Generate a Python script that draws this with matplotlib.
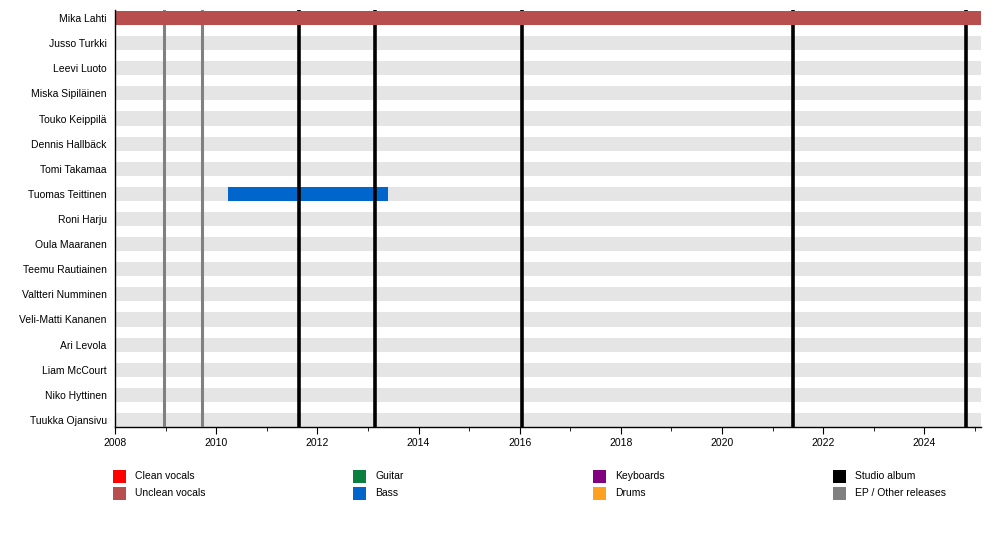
import matplotlib
matplotlib.use("Agg")
import matplotlib.pyplot as plt
from matplotlib.patches import Rectangle

plt.rcParams['font.family'] = ['Liberation Sans', 'DejaVu Sans']

members = ["Mika Lahti", "Jusso Turkki", "Leevi Luoto", "Miska Sipiläinen",
           "Touko Keippilä", "Dennis Hallbäck", "Tomi Takamaa", "Tuomas Teittinen",
           "Roni Harju", "Oula Maaranen", "Teemu Rautiainen", "Valtteri Numminen",
           "Veli-Matti Kananen", "Ari Levola", "Liam McCourt", "Niko Hyttinen",
           "Tuukka Ojansivu"]

# membership periods: (member, role, start, end)
bar_members = ["Mika Lahti", "Tuomas Teittinen"]
bar_roles = ["Unclean vocals", "Bass"]
bar_starts = [2008.0, 2010.23]
bar_ends = [2025.12, 2013.40]

studio_albums = [2011.64, 2013.14, 2016.04, 2021.40, 2024.82]
other_releases = [2008.97, 2009.72]

legend_labels = ["Clean vocals", "Unclean vocals", "Guitar", "Bass",
                 "Keyboards", "Drums", "Studio album", "EP / Other releases"]
legend_colors = ["#FF0000", "#B94E4E", "#0A7F3F", "#0066CC",
                 "#800080", "#FFA020", "#000000", "#808080"]
role_color = dict(zip(legend_labels, legend_colors))

x_start, x_end = 2008.0, 2025.12

fig = plt.figure(figsize=(10, 5.36), dpi=100)
ax = fig.add_axes([0.115, 0.2034, 0.981 - 0.115, 0.9813 - 0.2034])

ypos = list(range(len(members)))
bh = 0.56
# background stripes
ax.barh(ypos, [x_end - x_start] * len(members), left=x_start, height=bh,
        color="#E5E5E5", zorder=1)
# member bars (the top row sits above the release lines)
for m, r, s, e in zip(bar_members, bar_roles, bar_starts, bar_ends):
    row = members.index(m)
    ax.barh(row, e - s, left=s, height=bh, color=role_color[r],
            zorder=5 if row == 0 else 2)

for x in other_releases:
    ax.axvline(x, color="#808080", lw=2.2, zorder=3)
for x in studio_albums:
    ax.axvline(x, color="#000000", lw=2.6, zorder=3)

ax.set_xlim(x_start, x_end)
ax.set_ylim(16.28, -0.32)
ax.set_yticks(ypos)
ax.set_yticklabels(members, fontsize=7.5)
ax.tick_params(axis='y', length=0, pad=6)
ax.set_xticks(range(2008, 2026, 2))
ax.set_xticks(range(2008, 2026), minor=True)
ax.tick_params(axis='x', which='major', length=5, width=0.8, labelsize=7.5, pad=3)
ax.tick_params(axis='x', which='minor', length=3, width=0.6)
for side in ["top", "right"]:
    ax.spines[side].set_visible(False)
ax.spines["left"].set_linewidth(1.0)
ax.spines["bottom"].set_linewidth(1.0)
ax.spines["left"].set_zorder(6)

# legend (4 columns x 2 rows)
col_x = [113, 353, 593, 833]
row_y = [476, 493]
W, H = 1000, 536
for i, (lab, col) in enumerate(zip(legend_labels, legend_colors)):
    c, r = divmod(i, 2)
    x0 = col_x[c]
    y0 = row_y[r]
    fig.add_artist(Rectangle((x0 / W, 1 - (y0 + 6.5) / H), 13 / W, 13 / H,
                             transform=fig.transFigure, color=col, lw=0))
    fig.text((x0 + 22) / W, 1 - y0 / H, lab, fontsize=7.5, va="center", ha="left")

fig.savefig("out.png", dpi=100)
